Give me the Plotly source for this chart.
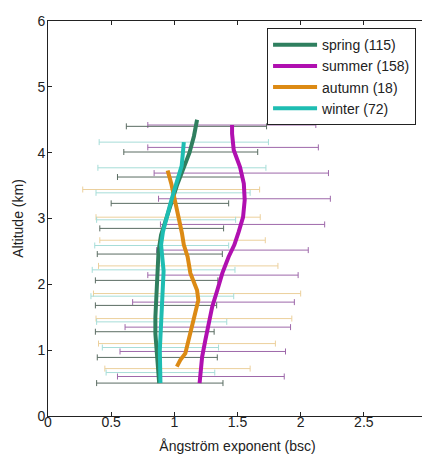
import plotly.graph_objects as go

# ---- mean profiles (Angstrom exponent vs altitude km) ----
spring_alt = [0.5, 0.75, 1.0, 1.25, 1.5, 1.75, 2.0, 2.25, 2.5, 2.75, 3.0, 3.25, 3.5, 3.75, 4.0, 4.25, 4.5]
spring_val = [0.88, 0.87, 0.86, 0.85, 0.85, 0.855, 0.86, 0.865, 0.875, 0.895, 0.935, 0.975, 1.02, 1.07, 1.12, 1.155, 1.18]

summer_alt = [0.5, 0.65, 0.9, 1.15, 1.41, 1.66, 1.91, 2.17, 2.42, 2.6, 2.8, 3.02, 3.28, 3.53, 3.78, 4.04, 4.29, 4.42]
summer_val = [1.20, 1.206, 1.22, 1.245, 1.27, 1.30, 1.34, 1.38, 1.43, 1.475, 1.51, 1.544, 1.557, 1.55, 1.52, 1.47, 1.457, 1.457]

autumn_alt = [0.75, 0.85, 0.95, 1.15, 1.36, 1.56, 1.76, 1.91, 2.17, 2.42, 2.6, 2.78, 3.02, 3.28, 3.53, 3.73]
autumn_val = [1.02, 1.047, 1.087, 1.113, 1.14, 1.166, 1.19, 1.18, 1.127, 1.105, 1.075, 1.06, 1.034, 1.008, 0.976, 0.947]

winter_alt = [0.5, 0.8, 1.0, 1.2, 1.4, 1.6, 1.8, 2.0, 2.2, 2.4, 2.6, 2.8, 3.0, 3.2, 3.4, 3.6, 3.8, 4.0, 4.1, 4.16]
winter_val = [0.89, 0.885, 0.885, 0.89, 0.895, 0.90, 0.905, 0.91, 0.915, 0.905, 0.895, 0.91, 0.935, 0.965, 0.995, 1.03, 1.058, 1.068, 1.07, 1.075]

# ---- error bars: altitude, centre, half-width ----
spring_eb_alt = [0.50, 0.89, 1.28, 1.68, 2.06, 2.46, 2.85, 3.23, 3.63, 4.01, 4.40]
spring_eb_ctr = [0.885, 0.865, 0.845, 0.855, 0.86, 0.885, 0.90, 0.965, 1.045, 1.13, 1.175]
spring_eb_err = [0.50, 0.475, 0.47, 0.48, 0.485, 0.495, 0.49, 0.465, 0.495, 0.53, 0.555]

summer_eb_alt = [0.60, 0.98, 1.35, 1.73, 2.14, 2.52, 2.91, 3.30, 3.69, 4.08, 4.42]
summer_eb_ctr = [1.21, 1.225, 1.265, 1.31, 1.385, 1.46, 1.54, 1.555, 1.53, 1.465, 1.455]
summer_eb_err = [0.66, 0.655, 0.655, 0.64, 0.595, 0.60, 0.65, 0.68, 0.69, 0.675, 0.665]

autumn_eb_alt = [0.72, 1.10, 1.48, 1.86, 2.28, 2.67, 3.02, 3.44]
autumn_eb_ctr = [1.025, 1.10, 1.155, 1.18, 1.11, 1.065, 1.03, 0.975]
autumn_eb_err = [0.575, 0.70, 0.775, 0.82, 0.71, 0.655, 0.65, 0.70]

winter_eb_alt = [0.66, 1.04, 1.43, 1.82, 2.22, 2.59, 2.98, 3.39, 3.77, 4.16]
winter_eb_ctr = [0.89, 0.89, 0.90, 0.905, 0.915, 0.90, 0.935, 0.99, 1.06, 1.075]
winter_eb_err = [0.43, 0.46, 0.515, 0.565, 0.565, 0.53, 0.55, 0.61, 0.665, 0.67]

names = ["spring (115)", "summer (158)", "autumn (18)", "winter (72)"]
line_colors = ["#2f7f5f", "#b010b0", "#dc8a14", "#1ebdb2"]
bar_colors = ["#5a6c62", "#9e68aa", "#ecd09c", "#a6ddd8"]

profiles = [(spring_alt, spring_val), (summer_alt, summer_val),
            (autumn_alt, autumn_val), (winter_alt, winter_val)]
bars = [(spring_eb_alt, spring_eb_ctr, spring_eb_err),
        (summer_eb_alt, summer_eb_ctr, summer_eb_err),
        (autumn_eb_alt, autumn_eb_ctr, autumn_eb_err),
        (winter_eb_alt, winter_eb_ctr, winter_eb_err)]

fig = go.Figure()

for i in [2, 3, 1, 0]:
    alt, ctr, err = bars[i]
    fig.add_trace(go.Scatter(
        x=ctr, y=alt, mode="markers",
        marker=dict(size=1, opacity=0),
        error_x=dict(type="data", array=err, symmetric=True,
                     color=bar_colors[i], thickness=1, width=3),
        showlegend=False, hoverinfo="skip"))

for i, (alt, val) in enumerate(profiles):
    fig.add_trace(go.Scatter(
        x=val, y=alt, mode="lines", name=names[i],
        line=dict(color=line_colors[i], width=4)))

font = "Liberation Sans, Arial, sans-serif"
axis_common = dict(showgrid=False, zeroline=False, showline=True,
                   linecolor="#222222", linewidth=1, mirror="ticks",
                   ticks="inside", ticklen=4, tickcolor="#222222",
                   automargin=False, tickfont=dict(size=14))
fig.update_layout(
    width=422, height=448,
    margin=dict(l=40, r=3, t=13, b=40),
    paper_bgcolor="white", plot_bgcolor="white",
    font=dict(family=font, size=14, color="#222222"),
    legend=dict(x=0.578, y=0.982, xanchor="left", yanchor="top",
                bordercolor="#222222", borderwidth=1, bgcolor="white",
                font=dict(size=14), tracegroupgap=0, itemwidth=44),
    xaxis=dict(range=[0, 3], tickvals=[0, 0.5, 1, 1.5, 2, 2.5, 3],
               ticktext=["0", "0.5", "1", "1.5", "2", "2.5", "3"],
               ticklabelstandoff=-7,
               title=dict(text="Ångström exponent (bsc)", standoff=12,
                          font=dict(size=14)),
               **axis_common),
    yaxis=dict(range=[0, 6], tickvals=[0, 1, 2, 3, 4, 5, 6],
               ticklabelstandoff=-1,
               title=dict(text="Altitude (km)", standoff=10,
                          font=dict(size=14)),
               **axis_common),
)

fig.write_html("out.html")
